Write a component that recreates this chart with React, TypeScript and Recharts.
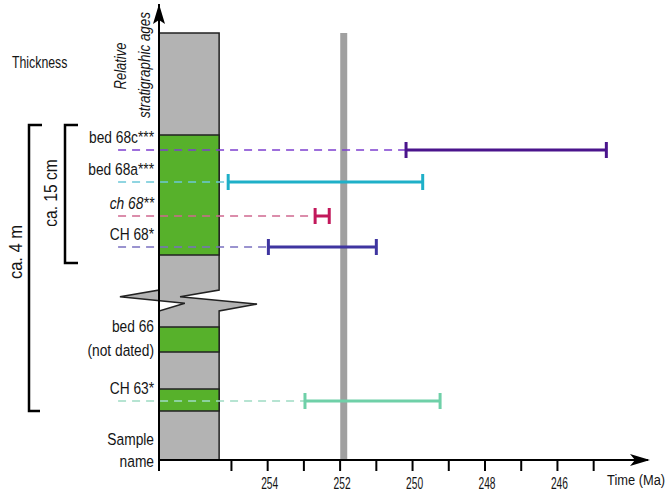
import React from 'react';
import {
  ComposedChart, XAxis, YAxis, Scatter, ErrorBar, ReferenceLine, ReferenceArea, ReferenceDot,
} from 'recharts';

// --- data ---
// sample names, top to bottom
const samples = ['bed 68c***', 'bed 68a***', 'ch 68**', 'CH 68*', 'CH 63*'];
const italicSample = [false, false, true, false, false];
// age ranges (Ma): older end / younger end
const oldAge = [250.18, 255.09, 252.69, 253.98, 252.97];
const youngAge = [244.65, 249.72, 252.3, 251.0, 249.24];
// relative stratigraphic position of each sample (0 = base of the log)
const sampleLevel = [310, 278, 244, 213, 59];
const barColors = ['#4a148c', '#1fb0c8', '#c2185b', '#3f35a0', '#6fd0a8'];
const dashColors = ['#7e3fd0', '#6cc8d8', '#d06890', '#7a70c0', '#9fdcc4'];

// time axis
const timeTicks = [257, 255, 254, 253, 252, 251, 250, 249, 248, 247, 246, 245];
const timeDomain = [243.5, 257];
const ptbAge = 251.9;

// log column: base / top, break in the section, green beds
const columnBase = 0;
const columnTop = 427;
const breakLevel = [149, 170];
const greenBeds = [
  [205, 325],
  [108, 133],
  [49, 71],
];

const FONT = "'Liberation Sans', Arial, sans-serif";
const COL_LEFT = 257;
const COL_RIGHT = 255.34;
const DASH_START = 258.13;

// narrow text: Liberation Sans squeezed horizontally to look like a condensed face
const T = ({ x, y, size = 16, sx = 0.81, anchor = 'start', italic = false, rotate = 0, children }: any) => (
  <text
    transform={`translate(${x},${y}) rotate(${rotate}) scale(${sx},1)`}
    textAnchor={anchor}
    fontSize={size}
    fontFamily={FONT}
    fontStyle={italic ? 'italic' : 'normal'}
    fill="#151515"
  >
    {children}
  </text>
);

// gray column with the zig-zag gap
const ColumnShape = (props: any) => {
  const { x, y, width: w, height: h } = props;
  const span = columnTop - columnBase;
  const bT = y + (h * (columnTop - breakLevel[1])) / span;
  const bB = y + (h * (columnTop - breakLevel[0])) / span;
  const bh = bB - bT;
  const d = [
    `M${x},${y}`, `L${x + w},${y}`, `L${x + w},${bT}`,
    `L${x + 0.35 * w},${bT + 0.32 * bh}`, `L${x + 1.63 * w},${bT + 0.67 * bh}`,
    `L${x + w},${bB}`, `L${x + w},${y + h}`, `L${x},${y + h}`, `L${x},${bB}`,
    `L${x + 0.43 * w},${bT + 0.63 * bh}`, `L${x - 0.65 * w},${bT + 0.32 * bh}`,
    `L${x},${bT}`, 'Z',
  ].join(' ');
  return <path d={d} fill="#b3b3b3" stroke="#222" strokeWidth={1.5} />;
};

const ArrowUp = (props: any) => {
  const { cx, cy } = props;
  return <path d={`M${cx},${cy} L${cx + 6},${cy + 20} L${cx},${cy + 16} L${cx - 6},${cy + 20} Z`} fill="#000" />;
};
const ArrowRight = (props: any) => {
  const { cx, cy } = props;
  const t = cx + 2;
  return <path d={`M${t},${cy} L${t - 20},${cy - 6} L${t - 15},${cy} L${t - 20},${cy + 6} Z`} fill="#000" />;
};

const TimeTick = (props: any) => {
  const { x, y, payload } = props;
  const v = payload.value;
  if (v % 2 !== 0 || v > 255) return <g />;
  return <T x={x + 2} y={y + 11.5} size={16.5} sx={0.62} anchor="middle">{String(v)}</T>;
};

const sampleData = samples.map((name, i) => {
  const mid = (oldAge[i] + youngAge[i]) / 2;
  return { name, age: mid, level: sampleLevel[i], err: [mid - youngAge[i], oldAge[i] - mid] };
});

export default function App() {
  return (
    <div style={{ position: 'absolute', left: 0, top: 0, width: 669, height: 491, background: '#fff' }}>
      <ComposedChart width={669} height={491} margin={{ top: 4, right: 21, left: 159, bottom: 0 }}>
        <XAxis
          type="number"
          dataKey="age"
          domain={timeDomain}
          reversed
          allowDataOverflow
          ticks={timeTicks}
          interval={0}
          height={31}
          tickSize={11}
          tickMargin={6}
          axisLine={{ stroke: '#000', strokeWidth: 2 }}
          tickLine={{ stroke: '#000', strokeWidth: 2 }}
          tick={<TimeTick />}
        />
        <YAxis type="number" dataKey="level" domain={[0, 456]} hide allowDataOverflow />

        <ReferenceArea x1={COL_LEFT} x2={COL_RIGHT} y1={columnBase} y2={columnTop} shape={<ColumnShape />} ifOverflow="visible" />
        {greenBeds.map(([lo, hi], i) => (
          <ReferenceArea key={`g${i}`} x1={COL_LEFT} x2={COL_RIGHT} y1={lo} y2={hi}
            fill="#57b12b" fillOpacity={1} stroke="#222" strokeWidth={1.5} />
        ))}

        <ReferenceLine segment={[{ x: ptbAge, y: columnBase }, { x: ptbAge, y: columnTop }]}
          stroke="#a0a0a0" strokeWidth={7} />

        {samples.map((name, i) => (
          <ReferenceLine
            key={`d${i}`}
            segment={[{ x: DASH_START, y: sampleLevel[i] }, { x: oldAge[i], y: sampleLevel[i] }]}
            stroke={dashColors[i]}
            strokeWidth={1.5}
            strokeDasharray="8 6"
            ifOverflow="visible"
            label={({ viewBox }: any) => (
              <T x={viewBox.x + 36} y={viewBox.y - 7} size={17} anchor="end" italic={italicSample[i]}>
                {name}
              </T>
            )}
          />
        ))}

        {sampleData.map((d, i) => (
          <Scatter key={`s${i}`} data={[d]} dataKey="level" isAnimationActive={false}
            shape={() => <g />}>
            <ErrorBar dataKey="err" direction="x" width={8} stroke={barColors[i]} strokeWidth={3}
              isAnimationActive={false} />
          </Scatter>
        ))}

        <ReferenceLine segment={[{ x: COL_LEFT, y: 0 }, { x: COL_LEFT, y: 456 }]} stroke="#000" strokeWidth={2} />
        <ReferenceDot x={COL_LEFT} y={456} shape={<ArrowUp />} ifOverflow="visible" />
        <ReferenceDot x={timeDomain[0]} y={0} shape={<ArrowRight />} ifOverflow="visible" />
      </ComposedChart>

      <svg width={669} height={491} style={{ position: 'absolute', left: 0, top: 0, pointerEvents: 'none' }}>
        <T x={12} y={68} size={16} sx={0.77}>Thickness</T>
        <T x={126} y={66} size={16} rotate={-90} anchor="middle" italic>Relative</T>
        <T x={150} y={65} size={16} sx={0.84} rotate={-90} anchor="middle" italic>stratigraphic ages</T>

        <path d="M42,125 H29 V411 H40" fill="none" stroke="#000" strokeWidth={2.5} />
        <T x={22} y={252} size={19} sx={0.87} rotate={-90} anchor="middle">ca. 4 m</T>
        <path d="M78,125 H65 V263 H78" fill="none" stroke="#000" strokeWidth={2.5} />
        <T x={57} y={193} size={19} sx={0.82} rotate={-90} anchor="middle">ca. 15 cm</T>

        <T x={154} y={332} size={17} anchor="end">bed 66</T>
        <T x={154} y={356} size={17} anchor="end">(not dated)</T>
        <T x={154} y={445} size={17} anchor="end">Sample</T>
        <T x={154} y={467} size={17} anchor="end">name</T>
        <T x={607} y={485} size={15.5} sx={0.83}>Time (Ma)</T>
      </svg>
    </div>
  );
}
